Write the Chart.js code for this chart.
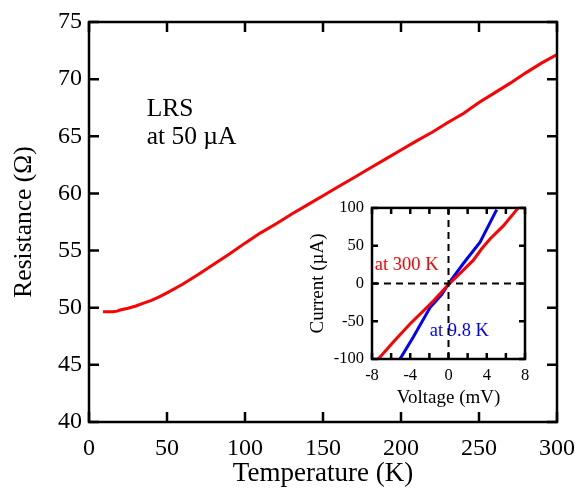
<!DOCTYPE html>
<html>
<head>
<meta charset="utf-8">
<script src="https://cdn.jsdelivr.net/npm/chart.js@4.4.1/dist/chart.umd.min.js"></script>
<style>
    html, body { margin: 0; padding: 0; background: #fff; }
    #wrap { position: relative; width: 575px; height: 490px; }
    #mainChart { position: absolute; left: 0; top: 0; }
    #insetChart { position: absolute; left: 300px; top: 190px; }
</style>
</head>
<body>
<div id="wrap">
    <canvas id="mainChart" width="575" height="490"></canvas>
    <canvas id="insetChart" width="240" height="225"></canvas>
</div>
<script>
// Main plot: resistance vs temperature (LRS at 50 uA)
const temperature = [9, 15, 18, 20, 25, 30, 35, 40, 45, 50, 60, 70, 80, 90, 100, 110, 120, 130,
    140, 150, 160, 170, 180, 190, 200, 210, 220, 230, 240, 250, 260, 270, 280, 290, 300];
const resistance = [49.65, 49.65, 49.7, 49.8, 49.95, 50.15, 50.4, 50.65, 50.95, 51.3, 52.05, 52.9,
    53.8, 54.7, 55.65, 56.55, 57.35, 58.2, 59.0, 59.8, 60.6, 61.4, 62.2, 63.0, 63.8, 64.6, 65.35,
    66.2, 67.0, 67.95, 68.8, 69.65, 70.55, 71.4, 72.15];

// Inset: I-V curves
const voltage300K = [-7.34, -5.77, -4.03, -1.59, -0.02, 1.2, 2.6, 3.47, 4.34, 5.73, 7.3];
const current300K = [-100, -77.5, -53.7, -23.4, -1.7, 13.4, 30.8, 45.9, 58.8, 76.2, 100];
const voltage9K = [-5.07, -3.68, -1.93, -0.71, 0.16, 1.55, 3.3, 5.04];
const current9K = [-100, -71, -32, -14.7, 2.6, 26.4, 54.5, 97.8];
const zeroV = [0, 0];
const zeroI = [-100, 100];
const rangeV = [-8, 8];

Chart.defaults.font.family = "'Liberation Serif', 'Times New Roman', serif";
Chart.defaults.color = "#000";

const toPoints = (xs, ys) => xs.map((x, i) => ({ x: x, y: ys[i] }));

// border + inward ticks on all four sides
const framePlugin = {
    id: "frame",
    afterDatasetsDraw(chart, args, opts) {
        const { ctx, chartArea: a, scales } = chart;
        ctx.save();
        ctx.strokeStyle = "#000";
        ctx.lineWidth = opts.lineWidth;
        ctx.beginPath();
        scales.x.ticks.forEach((t) => {
            const px = scales.x.getPixelForValue(t.value);
            ctx.moveTo(px, a.bottom);
            ctx.lineTo(px, a.bottom - opts.tick);
            ctx.moveTo(px, a.top);
            ctx.lineTo(px, a.top + opts.tick);
        });
        scales.y.ticks.forEach((t) => {
            const py = scales.y.getPixelForValue(t.value);
            ctx.moveTo(a.left, py);
            ctx.lineTo(a.left + opts.tick, py);
            ctx.moveTo(a.right, py);
            ctx.lineTo(a.right - opts.tick, py);
        });
        ctx.stroke();
        ctx.strokeRect(a.left, a.top, a.right - a.left, a.bottom - a.top);
        ctx.restore();
    },
};

// text notes placed in data coordinates
const notesPlugin = {
    id: "notes",
    afterDraw(chart, args, opts) {
        const { ctx, scales } = chart;
        ctx.save();
        ctx.textAlign = "left";
        ctx.textBaseline = "alphabetic";
        opts.items.forEach((n) => {
            ctx.fillStyle = n.color;
            ctx.font = n.size + "px 'Liberation Serif', serif";
            ctx.fillText(n.text, scales.x.getPixelForValue(n.x), scales.y.getPixelForValue(n.y));
        });
        ctx.restore();
    },
};

new Chart(document.getElementById("mainChart"), {
    type: "line",
    data: {
        datasets: [
            {
                data: toPoints(temperature, resistance),
                borderColor: "#ff0000",
                borderWidth: 3,
                pointRadius: 0,
                tension: 0,
            },
        ],
    },
    options: {
        responsive: false,
        animation: false,
        layout: { padding: { top: 22, right: 18, left: 0, bottom: 0 } },
        plugins: {
            legend: { display: false },
            tooltip: { enabled: false },
            frame: { lineWidth: 2.5, tick: 10 },
            notes: {
                items: [
                    { text: "LRS", x: 37, y: 66.8, color: "#000", size: 25.5 },
                    { text: "at 50 \u00b5A", x: 37, y: 64.35, color: "#000", size: 25.5 },
                ],
            },
        },
        scales: {
            x: {
                type: "linear",
                min: 0,
                max: 300,
                grid: { display: false, drawTicks: false },
                border: { display: false },
                ticks: { stepSize: 50, padding: 12, font: { size: 24 } },
                title: { display: true, text: "Temperature (K)", font: { size: 27 }, padding: { top: 0, bottom: 0 } },
                afterFit: (s) => {
                    s.height = 68;
                    s.paddingRight = 0;
                    s.paddingLeft = 0;
                },
            },
            y: {
                min: 40,
                max: 75,
                grid: { display: false, drawTicks: false },
                border: { display: false },
                ticks: { stepSize: 5, padding: 7, font: { size: 24 } },
                title: { display: true, text: "Resistance (\u03a9)", font: { size: 25.5 }, padding: { top: 9, bottom: 0 } },
                afterFit: (s) => { s.width = 89; },
            },
        },
    },
    plugins: [framePlugin, notesPlugin],
});

new Chart(document.getElementById("insetChart"), {
    type: "line",
    data: {
        datasets: [
            {
                data: toPoints(zeroV, zeroI),
                borderColor: "#000",
                borderWidth: 2,
                borderDash: [7, 5],
                pointRadius: 0,
            },
            {
                data: toPoints(rangeV, zeroV),
                borderColor: "#000",
                borderWidth: 2,
                borderDash: [7, 5],
                pointRadius: 0,
            },
            {
                data: toPoints(voltage300K, current300K),
                borderColor: "#ff0000",
                borderWidth: 3,
                pointRadius: 0,
            },
            {
                data: toPoints(voltage9K, current9K),
                borderColor: "#0000ff",
                borderWidth: 3,
                pointRadius: 0,
            },
        ],
    },
    options: {
        responsive: false,
        animation: false,
        layout: { padding: { top: 15, right: 15, left: 0, bottom: 0 } },
        plugins: {
            legend: { display: false },
            tooltip: { enabled: false },
            frame: { lineWidth: 2.5, tick: 6 },
            notes: {
                items: [
                    { text: "at 300 K", x: -7.7, y: 18, color: "#ff0000", size: 18.5 },
                    { text: "at 9.8 K", x: -1.95, y: -69, color: "#0000ff", size: 18.5 },
                ],
            },
        },
        scales: {
            x: {
                type: "linear",
                min: -8,
                max: 8,
                grid: { display: false, drawTicks: false },
                border: { display: false },
                ticks: {
                    stepSize: 2,
                    autoSkip: false,
                    maxRotation: 0,
                    padding: 7,
                    font: { size: 16.5 },
                    callback: (v) => (v % 4 === 0 ? v : ""),
                },
                title: { display: true, text: "Voltage (mV)", font: { size: 19 }, padding: { top: 0, bottom: 6 } },
                afterFit: (s) => { s.height = 56; },
            },
            y: {
                min: -100,
                max: 100,
                grid: { display: false, drawTicks: false },
                border: { display: false },
                ticks: { stepSize: 50, padding: 8, font: { size: 16.5 } },
                title: { display: true, text: "Current (\u00b5A)", font: { size: 19 }, padding: { top: 7, bottom: 0 } },
                afterFit: (s) => { s.width = 72; },
            },
        },
    },
    plugins: [framePlugin, notesPlugin],
});
</script>
</body>
</html>
